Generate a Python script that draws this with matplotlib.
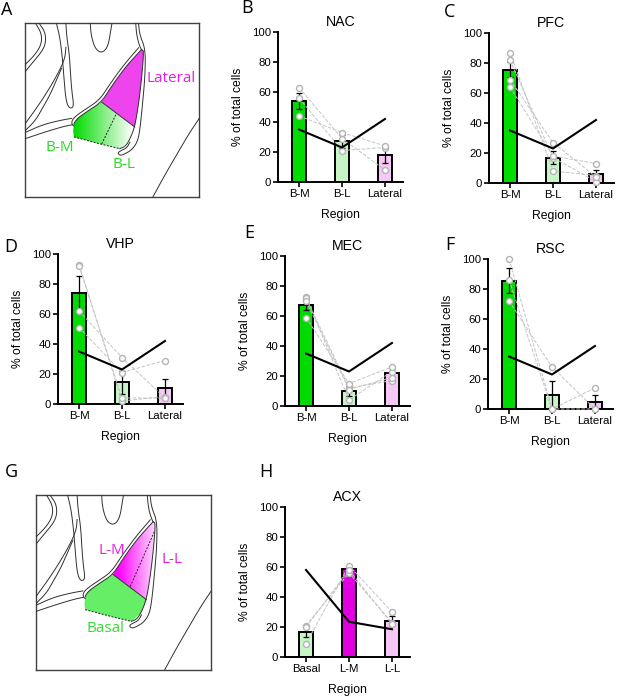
import matplotlib.pyplot as plt
from matplotlib.patches import Polygon
import numpy as np

plt.rcParams['font.family'] = ['Liberation Sans', 'DejaVu Sans']

# ---- data ----
cats_bl = ['B-M', 'B-L', 'Lateral']
cats_acx = ['Basal', 'L-M', 'L-L']
chance_bl = [35, 23, 42]
chance_acx = [58, 23.5, 18.5]

nac_mean = [54, 27.3, 17.8]
nac_err = [5.4, 4.3, 5.3]
nac_pts = [[63, 29, 8], [56, 21, 23], [44, 33, 24]]

pfc_mean = [75.6, 16.9, 6.2]
pfc_err = [5.0, 4.2, 2.5]
pfc_pts = [[87, 8, 5], [82, 17, 1], [69, 27, 4], [64, 18, 13]]

vhp_mean = [74.1, 14.4, 10.4]
vhp_err = [11, 7.7, 6.4]
vhp_pts = [[93, 2, 5], [92, 4, 4], [62, 31, 4], [51, 21, 29]]

mec_mean = [67.5, 10.2, 21.8]
mec_err = [3.2, 3.2, 3.3]
mec_pts = [[73, 4, 23], [72, 12, 17], [70, 11, 19], [59, 15, 26]]

rsc_mean = [85.6, 9.4, 4.7]
rsc_err = [8.2, 9.4, 4.7]
rsc_pts = [[100, 0, 0], [72, 28, 0], [86, 0, 14]]

acx_mean = [16.4, 58.5, 24.2]
acx_err = [3.3, 2.2, 2.9]
acx_pts = [[9, 61, 30], [21, 56, 23], [20, 58, 22]]

c_bm = '#00dc00'
c_bl = '#c8f5c8'
c_lat = '#f5c8f5'
c_lm = '#e000e0'

W, H = 617, 697
fig = plt.figure(figsize=(W / 100, H / 100), dpi=100)


def add_ax(x0, y0, x1, y1):
    return fig.add_axes([x0 / W, 1 - y1 / H, (x1 - x0) / W, (y1 - y0) / H])


def bar_panel(ax, title, cats, colors, means, errs, pts, chance):
    x = np.arange(3)
    ax.bar(x, means, width=0.33, color=colors, edgecolor='black', linewidth=1.4, zorder=2)
    ax.errorbar(x, means, yerr=errs, fmt='none', ecolor='black', elinewidth=0.9,
                capsize=2.5, capthick=0.9, zorder=3)
    for p in pts:
        ax.plot(x, p, ls='--', color='#c4c4c4', lw=0.7, marker='o', ms=4.3,
                mfc='white', mec='#b4b4b4', mew=1.0, zorder=4, clip_on=False)
    ax.plot(x, chance, color='black', lw=1.5, zorder=5)
    ax.set_xlim(-0.49, 2.42)
    ax.set_ylim(0, 100)
    ax.set_yticks([0, 20, 40, 60, 80, 100])
    ax.set_xticks(x)
    ax.set_xticklabels(cats)
    for s in ['top', 'right']:
        ax.spines[s].set_visible(False)
    for s in ['left', 'bottom']:
        ax.spines[s].set_linewidth(1.4)
    ax.tick_params(length=3.5, width=1.2, labelsize=8.2, pad=1.5)
    ax.set_title(title, fontsize=10.2, pad=4)
    ax.set_ylabel('% of total cells', fontsize=8.7)
    ax.set_xlabel('Region', fontsize=8.8)
    ax.yaxis.set_label_coords(-0.27, 0.5)
    ax.xaxis.set_label_coords(0.5, -0.18)


bar_panel(add_ax(278, 32, 403, 182), 'NAC', cats_bl, [c_bm, c_bl, c_lat], nac_mean, nac_err, nac_pts, chance_bl)
bar_panel(add_ax(489, 33, 614, 183), 'PFC', cats_bl, [c_bm, c_bl, c_lat], pfc_mean, pfc_err, pfc_pts, chance_bl)
bar_panel(add_ax(58, 254, 183, 404), 'VHP', cats_bl, [c_bm, c_bl, c_lat], vhp_mean, vhp_err, vhp_pts, chance_bl)
bar_panel(add_ax(285, 256, 410, 406), 'MEC', cats_bl, [c_bm, c_bl, c_lat], mec_mean, mec_err, mec_pts, chance_bl)
bar_panel(add_ax(488, 259, 613, 409), 'RSC', cats_bl, [c_bm, c_bl, c_lat], rsc_mean, rsc_err, rsc_pts, chance_bl)
bar_panel(add_ax(285, 507, 410, 657), 'ACX', cats_acx, [c_bl, c_lm, c_lat], acx_mean, acx_err, acx_pts, chance_acx)


# ---- anatomy sketches (box coordinates 0..1, y downward) ----
def smooth(pts, n=3):
    p = np.array(pts, float)
    for _ in range(n):
        q = 0.75 * p[:-1] + 0.25 * p[1:]
        r = 0.25 * p[:-1] + 0.75 * p[1:]
        new = np.empty((2 * len(q), 2))
        new[0::2] = q
        new[1::2] = r
        p = np.vstack([p[:1], new, p[-1:]])
    return p


outlines = [
    [(0.652, 0.0), (0.660, 0.07), (0.692, 0.15), (0.690, 0.30), (0.677, 0.45), (0.662, 0.60),
     (0.648, 0.68), (0.615, 0.728), (0.575, 0.752), (0.548, 0.762), (0.532, 0.748), (0.548, 0.735),
     (0.585, 0.718), (0.603, 0.685)],
    [(0.636, 0.0), (0.642, 0.07), (0.656, 0.125), (0.669, 0.153)],
    [(0.669, 0.153), (0.58, 0.25), (0.50, 0.36), (0.44, 0.454), (0.37, 0.50), (0.306, 0.544),
     (0.285, 0.57), (0.281, 0.582)],
    [(0.653, 0.142), (0.57, 0.238), (0.49, 0.348), (0.43, 0.44), (0.36, 0.488), (0.30, 0.528),
     (0.272, 0.555), (0.268, 0.58), (0.281, 0.592)],
    [(0.669, 0.153), (0.683, 0.16), (0.672, 0.30), (0.655, 0.45), (0.631, 0.598), (0.60, 0.674),
     (0.575, 0.71), (0.545, 0.722)],
    [(0.44, 0.454), (0.631, 0.598)],
    [(0.0, 0.58), (0.08, 0.47), (0.15, 0.36), (0.20, 0.27), (0.23, 0.20), (0.235, 0.14)],
    [(0.0, 0.62), (0.06, 0.56), (0.10, 0.49), (0.14, 0.42), (0.18, 0.33), (0.21, 0.26)],
    [(0.0, 0.63), (0.10, 0.585), (0.20, 0.56), (0.268, 0.548)],
    [(0.0, 0.665), (0.12, 0.625), (0.22, 0.595), (0.27, 0.585)],
    [(0.06, 0.0), (0.095, 0.06), (0.095, 0.12), (0.06, 0.18), (0.0, 0.24)],
    [(0.08, 0.0), (0.115, 0.05), (0.12, 0.11), (0.10, 0.16), (0.05, 0.22), (0.0, 0.28)],
    [(0.18, 0.0), (0.20, 0.08), (0.215, 0.20), (0.225, 0.33), (0.235, 0.44), (0.25, 0.485),
     (0.27, 0.49), (0.28, 0.47), (0.27, 0.40), (0.262, 0.30), (0.255, 0.18), (0.24, 0.08), (0.235, 0.0)],
    [(0.375, 0.0), (0.38, 0.07), (0.40, 0.14), (0.43, 0.17), (0.46, 0.16), (0.48, 0.12), (0.49, 0.06),
     (0.50, 0.0)],
    [(0.735, 1.0), (0.80, 0.88), (0.87, 0.76), (0.94, 0.64), (1.0, 0.55)],
]

lat_poly = [(0.669, 0.153), (0.683, 0.16), (0.672, 0.30), (0.655, 0.45), (0.631, 0.598),
            (0.44, 0.454), (0.50, 0.36), (0.58, 0.25)]
bas_poly = [(0.44, 0.454), (0.631, 0.598), (0.60, 0.674), (0.545, 0.722), (0.44, 0.697),
            (0.281, 0.655), (0.277, 0.62), (0.281, 0.582), (0.292, 0.562), (0.306, 0.544), (0.37, 0.50)]


def sketch_axes(x0, y0, x1, y1):
    ax = add_ax(x0, y0, x1, y1)
    ax.set_xlim(0, 1)
    ax.set_ylim(1, 0)
    ax.set_xticks([])
    ax.set_yticks([])
    for s in ax.spines.values():
        s.set_linewidth(1.0)
        s.set_color('#404040')
    for line in outlines:
        p = smooth(line)
        ax.plot(p[:, 0], p[:, 1], color='#303030', lw=0.7, zorder=3)
    return ax


def gradient_fill(ax, poly, c_start, c_end, u0, u1):
    patch = Polygon(poly, closed=True, facecolor='none', edgecolor='none')
    ax.add_patch(patch)
    t = np.clip((np.linspace(0, 1, 200) - u0) / (u1 - u0), 0, 1)
    a = np.array(c_start)[None, :] * (1 - t[:, None]) + np.array(c_end)[None, :] * t[:, None]
    img = np.tile(a[None, :, :], (2, 1, 1))
    im = ax.imshow(img, extent=(0, 1, 1, 0), aspect='auto', zorder=1, interpolation='bilinear')
    im.set_clip_path(patch)


# panel A
axA = sketch_axes(25, 23, 199, 197)
axA.add_patch(Polygon(lat_poly, closed=True, facecolor='#ee44ee', edgecolor='none', zorder=1))
gradient_fill(axA, bas_poly, (0.0, 0.86, 0.0), (1.0, 1.0, 1.0), 0.28, 0.62)
axA.plot([0.522, 0.44], [0.527, 0.697], ls=(0, (2, 1.5)), color='#202020', lw=0.7, zorder=3)
axA.plot([0.281, 0.44, 0.545], [0.655, 0.697, 0.722], ls=(0, (2, 1.5)), color='#202020', lw=0.7, zorder=3)
axA.text(0.70, 0.32, 'Lateral', color='#e61ee6', fontsize=11, family='Open Sans', va='center')
axA.text(0.12, 0.715, 'B-M', color='#22dd22', fontsize=11, family='Open Sans', va='center')
axA.text(0.50, 0.815, 'B-L', color='#22dd22', fontsize=11, family='Open Sans', va='center')

# panel G
axG = sketch_axes(36, 495, 211, 670)
gradient_fill(axG, lat_poly, (1.0, 0.0, 1.0), (1.0, 1.0, 1.0), 0.47, 0.72)
axG.add_patch(Polygon(bas_poly, closed=True, facecolor='#66ee66', edgecolor='none', zorder=1))
axG.plot([0.676, 0.538], [0.21, 0.524], ls=(0, (2, 1.5)), color='#202020', lw=0.7, zorder=3)
axG.plot([0.281, 0.44, 0.545], [0.655, 0.697, 0.722], ls=(0, (2, 1.5)), color='#202020', lw=0.7, zorder=3)
axG.text(0.36, 0.32, 'L-M', color='#e61ee6', fontsize=11, family='Open Sans', va='center')
axG.text(0.715, 0.37, 'L-L', color='#e61ee6', fontsize=11, family='Open Sans', va='center')
axG.text(0.29, 0.765, 'Basal', color='#33dd33', fontsize=11, family='Open Sans', va='center')

# panel letters
for letter, px, py in [('A', 7, 10), ('B', 247, 8), ('C', 450, 12), ('D', 11, 247),
                       ('E', 249, 233), ('F', 450, 245), ('G', 11, 472), ('H', 266, 472)]:
    fig.text(px / W, 1 - py / H, letter, fontsize=13, family='Open Sans', ha='center', va='center')

fig.savefig('out.png', dpi=100)
